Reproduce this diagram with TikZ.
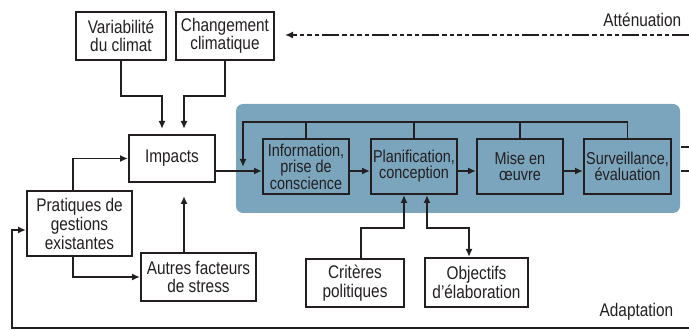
\documentclass[tikz,border=0pt]{standalone}
\usepackage{fontspec}
\setmainfont{Liberation Sans}[FakeStretch=0.84]
\usetikzlibrary{arrows.meta}
\definecolor{procblue}{RGB}{123,165,189}
\definecolor{ink}{RGB}{35,31,32}

\begin{document}
\begin{tikzpicture}[x=1pt,y=-1pt,color=ink,line width=1.6pt,
  box/.style={draw=ink, line width=2pt, fill=white, align=center, inner sep=0pt, font=\fontsize{18.3}{18.5}\selectfont},
  sbox/.style={box, fill=none, font=\fontsize{17.2}{16}\selectfont, minimum width=86pt, minimum height=55pt},
  arr/.style={-{Latex[length=8pt,width=7pt]}},
  arr2/.style={{Latex[length=8pt,width=7pt]}-{Latex[length=8pt,width=7pt]}},
  lbl/.style={font=\fontsize{18.3}{18.5}\selectfont, inner sep=0pt, anchor=east}]
\useasboundingbox (0,0) rectangle (689,331);

\node[fill=procblue, rounded corners=7pt, minimum width=444pt, minimum height=109pt, inner sep=0pt](proc) at (458,158.5) {};

\node[box, minimum width=90pt, minimum height=48pt](var) at (121,36) {Variabilité\\du climat};
\node[box, minimum width=98pt, minimum height=48pt](cc) at (225,36) {Changement\\climatique};
\node[box, minimum width=86pt, minimum height=47pt](imp) at (172,158.5) {Impacts};
\node[box, minimum width=105pt, minimum height=65pt, font=\fontsize{18.3}{19}\selectfont](prat) at (79.5,223.5) {Pratiques de\\gestions\\existantes};
\node[box, minimum width=115pt, minimum height=48pt](autres) at (198.5,277) {Autres facteurs\\de stress};
\node[box, minimum width=98pt, minimum height=48pt](crit) at (355,283) {Critères\\politiques};
\node[box, minimum width=103pt, minimum height=49pt](obj) at (476.5,282.5) {Objectifs\\d’élaboration};

\node[sbox](info) at (306,166.5) {Information,\\prise de\\conscience};
\node[sbox](plan) at (414,166.5) {Planification,\\conception};
\node[sbox](mise) at (520,166.5) {Mise en\\œuvre};
\node[sbox, minimum width=87pt](surv) at (627.5,166.5) {Surveillance,\\évaluation};

\node[lbl](attn) at (682,20) {Atténuation};
\node[lbl](adapt) at (674,312) {Adaptation};

\coordinate (jv) at (0,96);
\coordinate (impl) at ([xshift=-10pt]imp.north);
\coordinate (impr) at ([xshift=12pt]imp.north);
\coordinate (impb) at ([xshift=12pt]imp.south);
\coordinate (pratt) at ([xshift=-6.5pt]prat.north);
\coordinate (pratb) at ([xshift=-6.5pt]prat.south);
\coordinate (pratin) at ([yshift=-6.5pt]prat.west);
\coordinate (fl) at (0,171);
\coordinate (fb) at (0,122);
\coordinate (fbin) at (243,167);
\coordinate (cj) at (0,228);
\coordinate (critt) at ([xshift=6pt]crit.north);
\coordinate (planl) at ([xshift=-10pt]plan.south);
\coordinate (planr) at ([xshift=13pt]plan.south);
\coordinate (objl) at ([xshift=-7.5pt]obj.north);
\coordinate (lp) at (12,0);
\coordinate (loop) at (689,328);
\coordinate (att) at (689,35);
\coordinate (atttip) at (285,35);
\coordinate (o1) at (689,147);
\coordinate (o2) at (689,171);

\draw[arr, shorten >=5pt] (var.south) -- (var.south |- jv) -| (impl);
\draw[arr, shorten >=5pt] (cc.south) -- (cc.south |- jv) -| (impr);
\draw[arr] (pratt) |- (imp.west);
\draw[arr] (pratb) |- (autres.west);
\draw[arr, shorten >=13pt] (impb |- autres.north) -- (impb);

\draw[arr] (imp.east |- fl) -- (info.west |- fl);
\draw[arr] (info.east |- fl) -- (plan.west |- fl);
\draw[arr] (plan.east |- fl) -- (mise.west |- fl);
\draw[arr] (mise.east |- fl) -- (surv.west |- fl);

\draw[arr] (surv.north) |- (fbin |- fb) -- (fbin);
\draw (info.north) -- (info.north |- fb);
\draw (plan.north) -- (plan.north |- fb);
\draw (mise.north) -- (mise.north |- fb);

\draw[arr] (critt) -- (critt |- cj) -| (planl);
\draw[arr2] (planr) -- (planr |- cj) -| (objl);

\draw[arr] (loop) -- (loop -| lp) |- (pratin);
\draw[arr, dash pattern=on 17pt off 3pt on 4.5pt off 3pt on 4.5pt off 3pt on 4.5pt off 3pt on 4.5pt off 3pt] (att) -- (atttip);

\draw[line width=1.4pt] (proc.east |- o1) -- (o1);
\draw[line width=1.4pt] (proc.east |- o2) -- (o2);
\end{tikzpicture}
\end{document}
